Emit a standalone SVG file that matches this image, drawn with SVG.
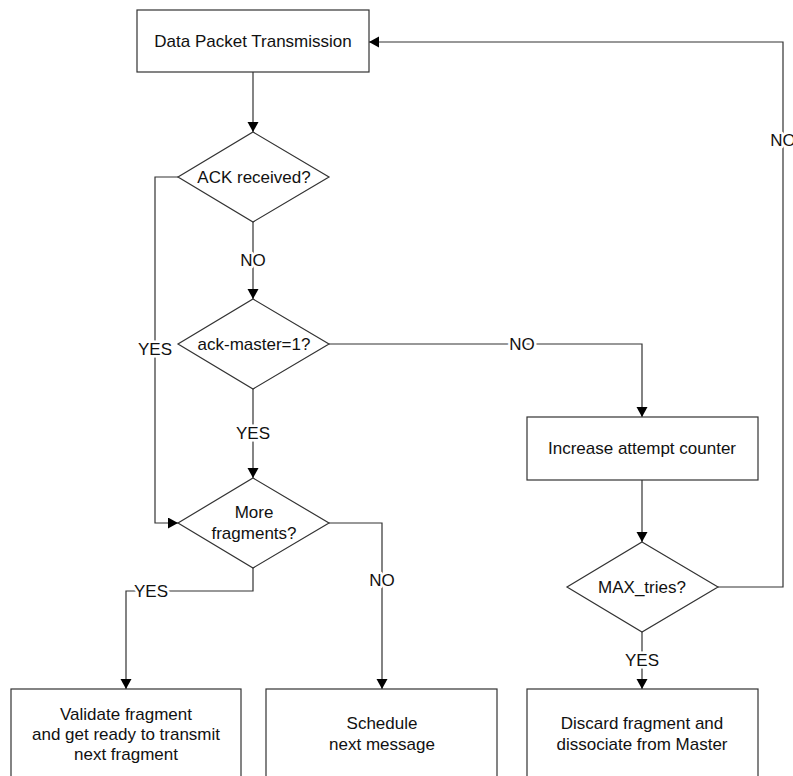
<svg xmlns="http://www.w3.org/2000/svg" width="793" height="776" viewBox="0 0 793 776">
  <style>
    .shape { fill: #ffffff; stroke: #333333; stroke-width: 1.2; }
    .wire { fill: none; stroke: #333333; stroke-width: 1.2; }
    text { font-family: "Liberation Sans", Arial, sans-serif; font-size: 17px; fill: #111111; text-anchor: middle; }
    .lbl { paint-order: stroke; stroke: #ffffff; stroke-width: 5px; stroke-linejoin: round; }
  </style>
  <defs>
    <marker id="arrow" markerUnits="userSpaceOnUse" markerWidth="12" markerHeight="12" refX="10" refY="5.5" orient="auto">
      <path d="M0,0 L10,5.5 L0,11 z" fill="#000000"/>
    </marker>
  </defs>
  <rect width="793" height="776" fill="#ffffff"/>

  <!-- connectors -->
  <g id="connectors">
    <path class="wire" d="M253,72 V132" marker-end="url(#arrow)"/>
    <path class="wire" d="M253,222 V299" marker-end="url(#arrow)"/>
    <path class="wire" d="M178,177 H155 V523 H178" marker-end="url(#arrow)"/>
    <path class="wire" d="M253,389 V478" marker-end="url(#arrow)"/>
    <path class="wire" d="M329,344 H642 V417" marker-end="url(#arrow)"/>
    <path class="wire" d="M253,568 V591 H126 V689" marker-end="url(#arrow)"/>
    <path class="wire" d="M329,523 H382 V689" marker-end="url(#arrow)"/>
    <path class="wire" d="M642,480 V542" marker-end="url(#arrow)"/>
    <path class="wire" d="M642,632 V689" marker-end="url(#arrow)"/>
    <path class="wire" d="M718,587 H783 V42 H369" marker-end="url(#arrow)"/>

    <text class="lbl" x="253" y="266">NO</text>
    <text class="lbl" x="155" y="355">YES</text>
    <text class="lbl" x="522" y="350">NO</text>
    <text class="lbl" x="253" y="439">YES</text>
    <text class="lbl" x="151" y="597">YES</text>
    <text class="lbl" x="382" y="586">NO</text>
    <text class="lbl" x="642" y="666">YES</text>
    <text class="lbl" x="783" y="146">NO</text>
  </g>

  <g id="data-packet-transmission">
    <rect class="shape" x="137" y="10" width="232" height="62"/>
    <text x="253" y="47">Data Packet Transmission</text>
  </g>

  <g id="ack-received">
    <polygon class="shape" points="253,132 329,177 253,222 178,177"/>
    <text x="254" y="183">ACK received?</text>
  </g>

  <g id="ack-master">
    <polygon class="shape" points="253,299 329,344 253,389 178,344"/>
    <text x="254" y="350">ack-master=1?</text>
  </g>

  <g id="more-fragments">
    <polygon class="shape" points="253,478 329,523 253,568 178,523"/>
    <text x="254" y="518">More</text>
    <text x="254" y="539">fragments?</text>
  </g>

  <g id="increase-attempt-counter">
    <rect class="shape" x="527" y="417" width="231" height="63"/>
    <text x="642" y="454">Increase attempt counter</text>
  </g>

  <g id="max-tries">
    <polygon class="shape" points="642,542 718,587 642,632 567,587"/>
    <text x="642" y="593">MAX_tries?</text>
  </g>

  <g id="validate-fragment">
    <rect class="shape" x="11" y="689" width="230" height="92"/>
    <text x="126" y="720">Validate fragment</text>
    <text x="126" y="740">and get ready to transmit</text>
    <text x="126" y="760">next fragment</text>
  </g>

  <g id="schedule-next-message">
    <rect class="shape" x="266" y="689" width="231" height="92"/>
    <text x="382" y="729">Schedule</text>
    <text x="382" y="750">next message</text>
  </g>

  <g id="discard-fragment">
    <rect class="shape" x="527" y="689" width="231" height="92"/>
    <text x="642" y="729">Discard fragment and</text>
    <text x="642" y="750">dissociate from Master</text>
  </g>
</svg>
